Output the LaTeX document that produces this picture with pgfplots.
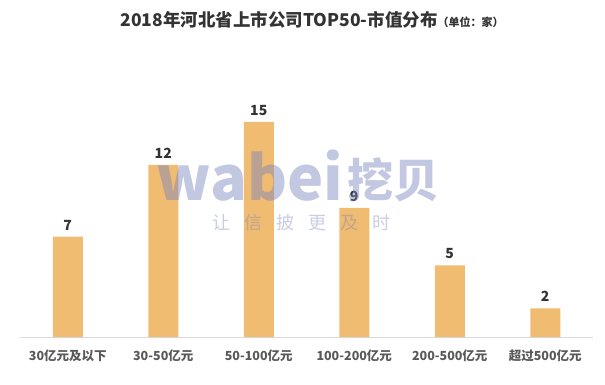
\documentclass[border=0pt]{standalone}
\usepackage{pgfplots}
\pgfplotsset{compat=1.18}
\usepackage{fontspec}
\setmainfont{Noto Sans CJK SC}
\definecolor{barc}{HTML}{F0BC72}
\definecolor{titc}{HTML}{333333}
\definecolor{labc}{HTML}{595959}
\definecolor{wm}{RGB}{120,130,190}
\begin{document}
\begin{tikzpicture}[x=1bp,y=1bp]
\path[use as bounding box] (0,0) rectangle (605,384);
\begin{axis}[
  at={(20bp,47bp)}, anchor=south west,
  scale only axis, width=573bp, height=287bp,
  xmin=-0.5, xmax=5.5, ymin=0, ymax=20,
  axis x line*=bottom, axis y line=none,
  x axis line style={draw=black!15, line width=1pt, -},
  xtick={0,1,2,3,4,5},
  xticklabels={30亿元及以下,30-50亿元,50-100亿元,100-200亿元,200-500亿元,超过500亿元},
  major tick length=0pt,
  xticklabel style={font=\fontsize{12.5bp}{13bp}\selectfont\bfseries, text=labc, yshift=-9bp},
  ytick=\empty,
  ybar, bar width=30bp,
  nodes near coords,
  /pgf/number format/assume math mode=true,
  every node near coord/.append style={font=\fontsize{14bp}{15bp}\selectfont\bfseries, text=titc, yshift=3bp},
  clip=false,
]
\addplot[fill=barc, draw=none] coordinates {(0,7) (1,12) (2,15) (3,9) (4,5) (5,2)};
\end{axis}
\node[anchor=center, text=titc] at (312,364) {\fontsize{17.5bp}{19bp}\selectfont\bfseries 2018年河北省上市公司TOP50-市值分布\fontsize{11bp}{12bp}\selectfont（单位：家）};
\node[anchor=base west, text=wm, opacity=0.45, inner sep=0] at (156,184) {\fontsize{61bp}{64bp}\selectfont\bfseries wabei};
\node[anchor=base west, text=wm, opacity=0.45, inner sep=0] at (347,187) {\fontsize{46bp}{50bp}\selectfont\bfseries 挖贝};
\node[anchor=west, text=wm, opacity=0.4, inner sep=0] at (212,161) {\fontsize{18bp}{20bp}\selectfont 让\hspace{14bp}信\hspace{14bp}披\hspace{14bp}更\hspace{14bp}及\hspace{14bp}时};
\end{tikzpicture}
\end{document}
